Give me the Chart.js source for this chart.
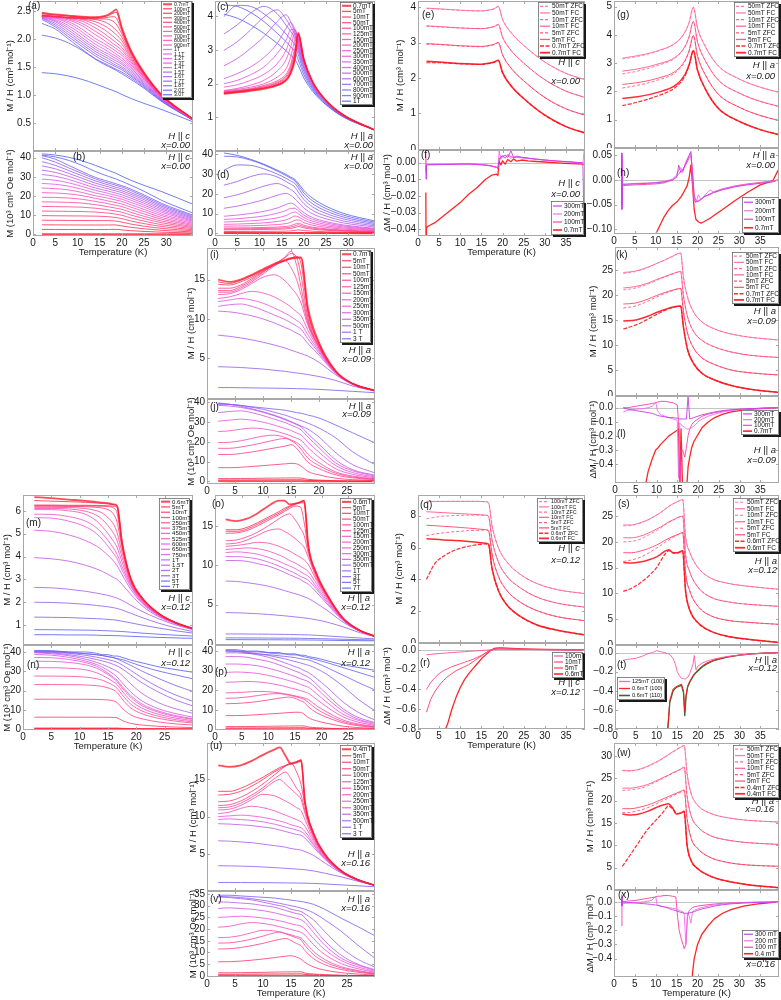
<!DOCTYPE html>
<html>
<head>
<meta charset="utf-8">
<script src="https://cdn.jsdelivr.net/npm/chart.js@4.4.0/dist/chart.umd.min.js"></script>
<style>
  body { margin: 0; background: #fff; width: 781px; height: 1000px; position: relative; overflow: hidden; }
  .panel { position: absolute; }
</style>
</head>
<body>
<script>
// ---------------- x = 0.00, H || c (a, b) ----------------
const tempA = [2, 5, 8, 11, 14, 16, 17, 18, 18.7, 20, 22, 25, 29, 36];
const fieldA = [0.7, 100, 200, 300, 400, 500, 600, 700, 800, 900, 1000, 1100, 1200, 1300, 1400, 1500, 1600, 1700, 1800, 2000, 3000];
const labelA = ['0.7mT', '100mT', '200mT', '300mT', '400mT', '500mT', '600mT', '700mT', '800mT', '900mT', '1T', '1.1T', '1.2T', '1.3T', '1.4T', '1.5T', '1.6T', '1.7T', '1.8T', '2.0T', '3.0T'];
const chiA = [
  [2.47, 2.44, 2.42, 2.40, 2.39, 2.41, 2.44, 2.49, 2.53, 2.2, 1.8, 1.4, 1.0, 0.57],
  [2.45, 2.43, 2.41, 2.39, 2.38, 2.40, 2.42, 2.46, 2.48, 2.18, 1.79, 1.39, 1.0, 0.57],
  [2.43, 2.41, 2.39, 2.38, 2.37, 2.38, 2.39, 2.40, 2.38, 2.14, 1.77, 1.39, 0.99, 0.57],
  [2.42, 2.40, 2.38, 2.37, 2.36, 2.36, 2.35, 2.32, 2.27, 2.09, 1.75, 1.38, 0.99, 0.57],
  [2.42, 2.40, 2.38, 2.37, 2.35, 2.31, 2.27, 2.21, 2.16, 2.03, 1.72, 1.37, 0.99, 0.57],
  [2.41, 2.40, 2.38, 2.36, 2.31, 2.24, 2.19, 2.13, 2.08, 1.97, 1.69, 1.36, 0.98, 0.57],
  [2.41, 2.40, 2.38, 2.35, 2.26, 2.17, 2.11, 2.05, 2.0, 1.91, 1.66, 1.35, 0.98, 0.57],
  [2.41, 2.40, 2.37, 2.32, 2.2, 2.1, 2.04, 1.98, 1.94, 1.85, 1.63, 1.33, 0.97, 0.56],
  [2.41, 2.40, 2.36, 2.28, 2.14, 2.04, 1.98, 1.92, 1.88, 1.8, 1.6, 1.32, 0.97, 0.56],
  [2.41, 2.39, 2.34, 2.24, 2.08, 1.98, 1.92, 1.87, 1.83, 1.75, 1.57, 1.31, 0.96, 0.56],
  [2.41, 2.38, 2.31, 2.18, 2.01, 1.92, 1.87, 1.82, 1.78, 1.71, 1.54, 1.29, 0.96, 0.56],
  [2.41, 2.37, 2.28, 2.13, 1.96, 1.87, 1.82, 1.77, 1.73, 1.66, 1.51, 1.28, 0.95, 0.56],
  [2.40, 2.35, 2.24, 2.08, 1.91, 1.82, 1.77, 1.72, 1.69, 1.62, 1.48, 1.26, 0.95, 0.56],
  [2.40, 2.33, 2.2, 2.03, 1.86, 1.77, 1.73, 1.68, 1.65, 1.58, 1.45, 1.24, 0.94, 0.55],
  [2.39, 2.31, 2.16, 1.99, 1.82, 1.73, 1.69, 1.64, 1.61, 1.55, 1.42, 1.22, 0.93, 0.55],
  [2.38, 2.28, 2.12, 1.95, 1.78, 1.69, 1.65, 1.6, 1.57, 1.51, 1.39, 1.2, 0.92, 0.55],
  [2.37, 2.25, 2.08, 1.91, 1.74, 1.65, 1.61, 1.56, 1.53, 1.48, 1.36, 1.18, 0.91, 0.55],
  [2.35, 2.22, 2.04, 1.87, 1.7, 1.61, 1.57, 1.53, 1.5, 1.45, 1.34, 1.16, 0.9, 0.55],
  [2.28, 2.18, 2.0, 1.82, 1.65, 1.57, 1.53, 1.49, 1.46, 1.41, 1.31, 1.14, 0.89, 0.55],
  [2.07, 2.02, 1.93, 1.8, 1.64, 1.55, 1.51, 1.47, 1.44, 1.38, 1.28, 1.12, 0.88, 0.55],
  [1.40, 1.38, 1.34, 1.28, 1.2, 1.14, 1.11, 1.08, 1.06, 1.01, 0.94, 0.85, 0.74, 0.52]
];

// ---------------- x = 0.00, H || a (c, d) ----------------
const tempC = [2, 5, 8, 11, 14, 16, 17, 18, 18.7, 20, 22, 25, 29, 36];
const fieldC = [0.7, 5, 10, 50, 100, 125, 150, 200, 250, 300, 350, 400, 500, 600, 700, 800, 900, 1000];
const labelC = ['0.7mT', '5mT', '10mT', '50mT', '100mT', '125mT', '150mT', '200mT', '250mT', '300mT', '350mT', '400mT', '500mT', '600mT', '700mT', '800mT', '900mT', '1T'];
const chiC = [
  [1.70, 1.74, 1.79, 1.85, 1.95, 2.1, 2.3, 2.75, 3.52, 2.72, 2.05, 1.5, 1.06, 0.62],
  [1.71, 1.75, 1.80, 1.86, 1.96, 2.11, 2.31, 2.77, 3.5, 2.72, 2.05, 1.5, 1.06, 0.62],
  [1.72, 1.76, 1.81, 1.87, 1.97, 2.12, 2.33, 2.79, 3.48, 2.72, 2.05, 1.5, 1.06, 0.62],
  [1.73, 1.77, 1.82, 1.88, 1.99, 2.15, 2.36, 2.83, 3.45, 2.71, 2.05, 1.5, 1.06, 0.62],
  [1.74, 1.78, 1.83, 1.9, 2.02, 2.19, 2.42, 2.9, 3.43, 2.71, 2.04, 1.5, 1.06, 0.62],
  [1.75, 1.79, 1.84, 1.92, 2.05, 2.23, 2.48, 2.98, 3.42, 2.7, 2.04, 1.5, 1.06, 0.62],
  [1.76, 1.8, 1.86, 1.95, 2.09, 2.29, 2.56, 3.08, 3.4, 2.7, 2.04, 1.5, 1.06, 0.62],
  [1.78, 1.83, 1.9, 2.0, 2.2, 2.45, 2.78, 3.3, 3.38, 2.69, 2.03, 1.49, 1.05, 0.62],
  [1.8, 1.86, 1.96, 2.1, 2.38, 2.72, 3.08, 3.5, 3.35, 2.67, 2.02, 1.49, 1.05, 0.62],
  [1.9, 1.97, 2.1, 2.28, 2.6, 3.0, 3.35, 3.6, 3.3, 2.65, 2.01, 1.48, 1.05, 0.62],
  [2.0, 2.1, 2.27, 2.5, 2.9, 3.3, 3.6, 3.62, 3.27, 2.62, 2.0, 1.48, 1.05, 0.62],
  [2.15, 2.3, 2.5, 2.78, 3.2, 3.65, 3.82, 3.6, 3.22, 2.6, 1.98, 1.47, 1.04, 0.62],
  [2.53, 2.75, 3.05, 3.4, 3.85, 4.05, 3.85, 3.5, 3.15, 2.56, 1.96, 1.46, 1.04, 0.62],
  [2.99, 3.25, 3.6, 3.98, 4.2, 3.92, 3.7, 3.42, 3.08, 2.5, 1.93, 1.45, 1.03, 0.62],
  [3.48, 3.75, 4.1, 4.3, 4.08, 3.74, 3.56, 3.33, 3.0, 2.44, 1.9, 1.43, 1.03, 0.62],
  [4.0, 4.33, 4.3, 4.08, 3.75, 3.48, 3.32, 3.15, 2.88, 2.36, 1.86, 1.41, 1.02, 0.62],
  [4.34, 4.3, 4.12, 3.85, 3.5, 3.25, 3.1, 2.95, 2.72, 2.27, 1.82, 1.39, 1.01, 0.62],
  [4.07, 3.95, 3.75, 3.5, 3.2, 2.98, 2.85, 2.72, 2.55, 2.17, 1.77, 1.37, 1.0, 0.62]
];

// ---------------- ZFC / FC panels (e, g, k, q, s, w) ----------------
const tempE = [2, 5, 10, 15, 17, 18, 19, 20, 22, 25, 30, 35, 39.5];
const pairLabelE = ['50mT', '10mT', '5mT', '0.7mT'];
const zfcE = [
  [3.96, 3.94, 3.91, 3.89, 3.92, 3.95, 4.01, 3.65, 3.28, 2.92, 2.45, 2.13, 1.95],
  [3.46, 3.44, 3.41, 3.39, 3.42, 3.45, 3.5, 3.15, 2.78, 2.42, 1.95, 1.63, 1.45],
  [2.95, 2.94, 2.9, 2.88, 2.91, 2.94, 2.99, 2.65, 2.28, 1.92, 1.45, 1.13, 0.95],
  [2.43, 2.43, 2.4, 2.38, 2.41, 2.44, 2.49, 2.15, 1.78, 1.42, 0.95, 0.63, 0.45]
];
const fcE = [
  [3.97, 3.95, 3.91, 3.89, 3.92, 3.95, 4.02, 3.65, 3.28, 2.92, 2.45, 2.13, 1.95],
  [3.47, 3.45, 3.41, 3.39, 3.42, 3.45, 3.51, 3.15, 2.78, 2.42, 1.95, 1.63, 1.45],
  [2.97, 2.95, 2.91, 2.89, 2.92, 2.95, 3.0, 2.65, 2.28, 1.92, 1.45, 1.13, 0.95],
  [2.47, 2.45, 2.41, 2.39, 2.42, 2.45, 2.5, 2.15, 1.78, 1.42, 0.95, 0.63, 0.45]
];

const tempG = [2, 5, 10, 15, 17, 18, 19, 20, 22, 25, 30, 35, 39.5];
const pairLabelG = ['50mT', '10mT', '5mT', '0.7mT'];
const zfcG = [
  [3.15, 3.22, 3.4, 3.74, 4.1, 4.45, 4.98, 4.25, 3.55, 2.9, 2.44, 2.15, 1.97],
  [2.62, 2.7, 2.9, 3.22, 3.58, 3.94, 4.48, 3.75, 3.05, 2.4, 1.94, 1.65, 1.47],
  [2.12, 2.2, 2.38, 2.7, 3.07, 3.43, 3.98, 3.25, 2.55, 1.9, 1.44, 1.15, 0.97],
  [1.5, 1.6, 1.82, 2.18, 2.55, 2.93, 3.45, 2.75, 2.05, 1.4, 0.94, 0.65, 0.47]
];
const fcG = [
  [3.18, 3.25, 3.42, 3.75, 4.1, 4.45, 4.98, 4.25, 3.55, 2.9, 2.44, 2.15, 1.97],
  [2.72, 2.78, 2.95, 3.25, 3.6, 3.95, 4.48, 3.75, 3.05, 2.4, 1.94, 1.65, 1.47],
  [2.25, 2.3, 2.45, 2.75, 3.1, 3.45, 3.98, 3.25, 2.55, 1.9, 1.44, 1.15, 0.97],
  [1.75, 1.8, 1.95, 2.25, 2.6, 2.95, 3.45, 2.75, 2.05, 1.4, 0.94, 0.65, 0.47]
];

const tempK = [2, 5, 8, 10, 12, 14, 15.8, 16.5, 17.5, 19, 21, 24, 28, 33, 39.5];
const pairLabelK = ['50mT', '10mT', '5mT', '0.7mT'];
const zfcK = [
  [24.3, 24.7, 25.5, 26.3, 27.0, 27.8, 28.4, 23.5, 19.5, 16.5, 14.6, 13.2, 12.2, 11.5, 11.0],
  [21.0, 21.4, 22.2, 22.9, 23.6, 24.2, 24.7, 19.8, 15.6, 12.6, 10.9, 9.6, 8.6, 7.9, 7.5],
  [17.4, 17.8, 18.8, 19.6, 20.3, 20.9, 21.3, 16.6, 12.3, 9.3, 7.4, 6.1, 5.0, 4.4, 4.0],
  [13.2, 14.0, 15.2, 16.1, 16.9, 17.5, 17.8, 13.5, 9.0, 6.2, 4.3, 3.0, 1.9, 1.1, 0.5]
];
const fcK = [
  [24.5, 24.8, 25.6, 26.3, 27.0, 27.8, 28.4, 23.5, 19.5, 16.5, 14.6, 13.2, 12.2, 11.5, 11.0],
  [21.4, 21.7, 22.4, 23.1, 23.7, 24.3, 24.7, 19.8, 15.6, 12.6, 10.9, 9.6, 8.6, 7.9, 7.5],
  [18.2, 18.4, 19.2, 19.9, 20.5, 21.0, 21.3, 16.6, 12.3, 9.3, 7.4, 6.1, 5.0, 4.4, 4.0],
  [14.8, 15.0, 15.8, 16.5, 17.1, 17.6, 17.8, 13.5, 9.0, 6.2, 4.3, 3.0, 1.9, 1.1, 0.5]
];

const tempQ = [2, 4, 6, 8, 10, 12, 14, 16, 16.7, 17.5, 19, 21, 24, 28, 33, 39.5];
const pairLabelQ = ['100mT', '10mT', '5mT', '0.6mT'];
const zfcQ = [
  [8.88, 8.89, 8.89, 8.9, 8.9, 8.9, 8.9, 8.88, 8.8, 7.4, 6.0, 5.1, 4.35, 3.75, 3.35, 3.1],
  [7.8, 7.9, 7.97, 8.0, 8.02, 8.03, 8.04, 8.03, 7.93, 6.5, 5.1, 4.2, 3.5, 2.9, 2.5, 2.25],
  [6.75, 6.85, 6.92, 6.98, 7.02, 7.06, 7.08, 7.1, 7.03, 5.6, 4.2, 3.3, 2.6, 2.05, 1.65, 1.4],
  [4.0, 5.0, 5.45, 5.75, 5.95, 6.08, 6.17, 6.22, 6.18, 4.7, 3.3, 2.4, 1.7, 1.15, 0.8, 0.5]
];
const fcQ = [
  [8.9, 8.9, 8.9, 8.9, 8.9, 8.9, 8.9, 8.88, 8.8, 7.4, 6.0, 5.1, 4.35, 3.75, 3.35, 3.1],
  [8.25, 8.22, 8.19, 8.16, 8.13, 8.1, 8.07, 8.03, 7.95, 6.5, 5.1, 4.2, 3.5, 2.9, 2.5, 2.25],
  [7.4, 7.37, 7.33, 7.3, 7.26, 7.22, 7.17, 7.12, 7.05, 5.6, 4.2, 3.3, 2.6, 2.05, 1.65, 1.4],
  [6.55, 6.52, 6.48, 6.45, 6.42, 6.38, 6.33, 6.27, 6.2, 4.7, 3.3, 2.4, 1.7, 1.15, 0.8, 0.5]
];

const tempS = [2, 4, 6, 8, 10, 11, 12, 13, 14, 15, 16.3, 17, 18, 20, 23, 27, 32, 39.5];
const pairLabelS = ['50mT', '10mT', '5mT', '0.6mT'];
const zfcS = [
  [23.1, 23.2, 23.6, 24.3, 25.2, 25.7, 26.3, 26.9, 27.4, 27.8, 28.2, 21.0, 18.0, 15.0, 13.0, 12.0, 11.4, 10.8],
  [20.0, 20.1, 20.5, 21.3, 22.2, 22.7, 23.3, 23.8, 24.2, 24.6, 25.0, 17.5, 14.2, 11.2, 9.3, 8.4, 7.9, 7.5],
  [16.2, 16.5, 17.0, 17.8, 18.8, 19.3, 19.9, 20.4, 20.9, 21.3, 21.8, 14.0, 10.5, 7.5, 5.7, 4.8, 4.4, 4.0],
  [10.4, 11.0, 12.0, 13.3, 15.0, 16.3, 17.6, 18.3, 17.8, 17.8, 18.2, 10.5, 6.8, 4.3, 2.7, 1.7, 1.1, 0.5]
];
const fcS = [
  [23.3, 23.3, 23.7, 24.3, 25.2, 25.7, 26.3, 26.9, 27.4, 27.8, 28.2, 21.0, 18.0, 15.0, 13.0, 12.0, 11.4, 10.8],
  [20.8, 20.8, 21.1, 21.7, 22.5, 22.9, 23.4, 23.9, 24.3, 24.7, 25.0, 17.5, 14.2, 11.2, 9.3, 8.4, 7.9, 7.5],
  [17.9, 17.9, 18.2, 18.7, 19.4, 19.8, 20.3, 20.7, 21.1, 21.4, 21.8, 14.0, 10.5, 7.5, 5.7, 4.8, 4.4, 4.0],
  [16.0, 15.9, 16.1, 16.5, 17.1, 17.6, 18.2, 18.5, 17.9, 17.9, 18.3, 10.5, 6.8, 4.3, 2.7, 1.7, 1.1, 0.5]
];

const tempW = [2, 4, 6, 8, 10, 11, 12, 13, 14, 15, 16, 16.8, 17.5, 18.5, 20, 23, 27, 32, 39.5];
const pairLabelW = ['50mT', '10mT', '5mT', '0.4mT'];
const zfcW = [
  [26.7, 26.6, 27.0, 27.6, 28.5, 29.0, 29.6, 30.2, 30.8, 31.4, 31.9, 32.3, 26.0, 21.5, 19.0, 17.2, 16.2, 15.6, 15.2],
  [22.3, 22.4, 22.7, 23.3, 24.2, 24.6, 25.1, 25.6, 26.1, 26.5, 27.0, 27.4, 21.0, 16.5, 14.2, 12.2, 11.2, 10.6, 10.2],
  [17.3, 17.4, 17.8, 18.4, 19.2, 19.7, 20.1, 20.6, 21.0, 21.5, 21.9, 22.2, 16.0, 11.5, 9.3, 7.3, 6.2, 5.6, 5.3],
  [5.3, 8.0, 10.8, 13.5, 15.6, 16.6, 17.7, 18.8, 18.2, 17.1, 17.3, 17.6, 10.0, 6.5, 4.8, 3.1, 2.0, 1.2, 0.5]
];
const fcW = [
  [26.8, 26.7, 27.0, 27.7, 28.6, 29.1, 29.7, 30.3, 30.9, 31.5, 32.0, 32.4, 26.0, 21.5, 19.0, 17.2, 16.2, 15.6, 15.2],
  [22.8, 22.8, 23.1, 23.6, 24.4, 24.8, 25.3, 25.7, 26.2, 26.6, 27.1, 27.5, 21.0, 16.5, 14.2, 12.2, 11.2, 10.6, 10.2],
  [18.2, 18.2, 18.5, 19.0, 19.7, 20.1, 20.5, 20.9, 21.3, 21.7, 22.1, 22.4, 16.0, 11.5, 9.3, 7.3, 6.2, 5.6, 5.3],
  [17.0, 16.8, 17.0, 17.6, 18.4, 18.8, 19.1, 19.3, 18.4, 17.0, 17.2, 17.6, 10.0, 6.5, 4.8, 3.1, 2.0, 1.2, 0.5]
];

// ---------------- Delta M / H panels (f, h, l, r, t, x) ----------------
const tempF = [1.85, 1.9, 2, 2.5, 4, 6, 8, 10, 12, 14, 16, 17.5, 18.6, 18.9, 19.2, 19.6, 20, 20.6, 21.2, 22, 22.6, 23.3, 24.5, 26, 28, 30, 33, 36, 39, 39.3];
const diffLabelF = ['300mT', '200mT', '100mT', '0.7mT'];
const diffF = [
  [-0.002, -0.01, -0.0014, -0.0014, -0.0013, -0.0012, -0.0011, -0.001, -0.0009, -0.0011, -0.0015, -0.0021, -0.0029, -0.0034, 0.002, 0.0035, 0.0035, 0.0045, 0.003, 0.007, 0.003, 0.0035, 0.0032, 0.0026, 0.002, 0.0015, 0.0009, 0.0004, -0.0002, -0.044],
  [0.007, -0.004, -0.001, -0.0011, -0.001, -0.001, -0.0009, -0.0008, -0.0008, -0.001, -0.0014, -0.002, -0.0028, -0.0032, 0.007, 0.002, 0.0035, 0.003, 0.004, 0.0025, 0.0035, 0.003, 0.0028, 0.0025, 0.002, 0.0014, 0.0008, 0.0003, -0.0002, 0.007],
  [0.003, -0.006, -0.0012, -0.0013, -0.0012, -0.0011, -0.0011, -0.0009, -0.0009, -0.0012, -0.0016, -0.0022, -0.003, -0.0036, 0.0012, 0.0028, 0.0042, 0.0025, 0.0048, 0.0035, 0.003, 0.0038, 0.003, 0.0026, 0.002, 0.0015, 0.0008, 0.0003, -0.0003, -0.0004],
  [-0.018, -0.044, -0.039, -0.038, -0.036, -0.032, -0.028, -0.024, -0.019, -0.015, -0.01, -0.0075, -0.007, -0.0078, 0.0008, -0.0015, 0.001, -0.001, 0.0018, 0.0005, 0.0022, 0.0008, 0.0015, 0.001, 0.0006, 0.0003, -0.0002, -0.0007, -0.001, -0.001]
];

const tempH = [1.85, 1.9, 2, 3, 5, 8, 10, 12, 13, 14, 15, 15.5, 16, 16.5, 17, 17.5, 18, 18.4, 18.8, 19.2, 19.6, 20.2, 20.8, 21.5, 23, 24, 26, 29, 32, 35, 38, 39.3];
const diffLabelH = ['300mT', '200mT', '100mT', '0.7mT'];
const diffH = [
  [0.055, -0.06, -0.01, -0.009, -0.008, -0.007, -0.006, -0.004, -0.002, 0.0, 0.005, 0.03, 0.015, 0.02, 0.03, 0.04, 0.05, 0.058, 0.01, -0.04, -0.045, -0.042, -0.04, -0.035, -0.028, -0.025, -0.02, -0.014, -0.01, -0.007, -0.004, 0.0],
  [0.05, -0.05, -0.008, -0.008, -0.007, -0.006, -0.005, -0.003, -0.001, 0.002, 0.01, 0.02, 0.025, 0.015, 0.032, 0.042, 0.05, 0.055, 0.0, -0.043, -0.046, -0.03, -0.04, -0.033, -0.02, -0.026, -0.019, -0.013, -0.009, -0.006, -0.003, 0.0],
  [0.04, -0.04, -0.012, -0.011, -0.01, -0.009, -0.008, -0.006, -0.003, 0.0, 0.008, 0.012, 0.018, 0.022, 0.028, 0.036, 0.045, 0.05, 0.02, -0.03, -0.042, -0.044, -0.04, -0.034, -0.03, -0.024, -0.018, -0.012, -0.008, -0.005, -0.002, 0.0],
  [-0.2, -0.2, -0.2, -0.2, -0.2, -0.16, -0.11, -0.075, -0.062, -0.052, -0.045, -0.04, -0.035, -0.028, -0.02, -0.012, 0.005, 0.03, -0.01, -0.06, -0.08, -0.085, -0.088, -0.085, -0.078, -0.072, -0.06, -0.042, -0.025, -0.01, -0.002, 0.02]
];

const tempL = [2, 3, 5, 7, 8, 9, 9.8, 10.2, 11, 12, 13, 14, 15, 15.3, 15.6, 15.9, 16.3, 16.8, 17.2, 17.6, 18, 18.5, 19, 20, 21, 22.5, 24, 26, 28, 30, 33, 36, 39.3];
const diffLabelL = ['300mT', '200mT', '100mT', '0.7mT'];
const diffL = [
  [0.0, -0.01, -0.02, -0.03, -0.035, -0.04, -0.05, -0.055, -0.06, -0.065, -0.07, -0.07, -0.075, -0.075, -0.08, -0.08, -0.08, -0.08, -0.08, 0.08, -0.08, -0.075, -0.07, -0.06, -0.05, -0.04, -0.03, -0.02, -0.015, -0.01, -0.006, -0.003, 0.0],
  [-0.03, -0.02, -0.01, -0.005, 0.0, 0.01, 0.04, -0.02, -0.05, -0.06, -0.07, -0.08, -0.09, -0.5, -0.11, -0.12, -0.13, -0.14, -0.15, -0.15, -0.15, -0.14, -0.13, -0.1, -0.08, -0.06, -0.045, -0.03, -0.02, -0.013, -0.007, -0.003, 0.0],
  [0.0, 0.0, 0.01, 0.02, 0.025, 0.03, 0.035, 0.04, 0.045, 0.045, 0.04, 0.035, 0.02, -0.1, -0.6, -0.3, -0.3, -0.35, -0.28, -0.2, -0.15, -0.12, -0.1, -0.08, -0.06, -0.045, -0.035, -0.025, -0.017, -0.012, -0.007, -0.003, 0.0],
  [-1, -1, -1, -0.6, -0.45, -0.36, -0.3, -0.29, -0.26, -0.23, -0.2, -0.18, -0.16, -0.15, -0.6, -0.15, -0.6, -0.6, -0.6, -0.42, -0.35, -0.28, -0.24, -0.19, -0.14, -0.1, -0.07, -0.045, -0.03, -0.02, -0.01, -0.005, 0.0]
];

const tempR = [2, 3, 4, 5, 6, 7, 8, 9, 10, 11, 12, 13, 14, 15, 16, 17, 18, 19, 20, 22, 25, 30, 35, 39.5];
const diffLabelR = ['100mT', '10mT', '5mT', '0.6mT'];
const diffR = [
  [-0.05, -0.045, -0.04, -0.037, -0.034, -0.03, -0.027, -0.024, -0.021, -0.018, -0.015, -0.012, -0.009, -0.006, -0.003, 0.0, 0.005, 0.01, 0.01, 0.008, 0.005, 0.003, 0.001, 0.0],
  [-0.4, -0.33, -0.28, -0.24, -0.21, -0.19, -0.17, -0.155, -0.14, -0.125, -0.11, -0.095, -0.075, -0.055, -0.03, -0.01, 0.005, 0.01, 0.01, 0.008, 0.005, 0.003, 0.001, 0.0],
  [-0.63, -0.5, -0.42, -0.36, -0.31, -0.27, -0.24, -0.21, -0.19, -0.17, -0.15, -0.12, -0.09, -0.06, -0.03, -0.005, 0.01, 0.01, 0.01, 0.008, 0.005, 0.003, 0.001, 0.0],
  [-1.2, -1.1, -1.0, -0.95, -0.85, -0.75, -0.6, -0.48, -0.38, -0.3, -0.24, -0.19, -0.14, -0.09, -0.05, -0.01, 0.015, 0.02, 0.02, 0.015, 0.01, 0.005, 0.002, 0.0]
];

const tempT = [2, 3, 5, 7, 8, 9, 10, 11, 12, 12.7, 13.2, 14, 14.6, 15, 15.5, 16, 16.5, 16.8, 17.1, 17.5, 18, 18.8, 19.1, 19.5, 20, 21, 22, 24, 27, 30, 33, 36, 39.5];
const diffLabelT = ['125mT (100)', '0.6mT (100)', '0.6mT (110)'];
const diffT = [
  [-0.08, -0.07, -0.06, -0.03, -0.01, 0.0, 0.02, 0.01, 0.0, -0.01, -0.02, -0.06, -0.13, -0.2, -0.24, -0.27, -0.27, -0.28, -0.27, -0.26, -0.22, -0.12, -0.03, -0.18, -0.14, -0.11, -0.09, -0.065, -0.04, -0.025, -0.012, -0.005, 0.0],
  [-2, -2, -2, -2, -2, -2, -2, -2, -1.2, -0.8, -0.5, -0.38, -0.36, -0.35, -0.34, -0.33, -0.4, -0.62, -0.45, -0.35, -0.3, -0.24, -0.22, -0.2, -0.18, -0.14, -0.11, -0.075, -0.045, -0.025, -0.012, -0.005, 0.0],
  [-2, -2, -2, -2, -2, -2, -2, -2, -1.2, -0.82, -0.52, -0.4, -0.37, -0.36, -0.35, -0.34, -0.42, -0.66, -0.47, -0.36, -0.31, -0.25, -0.23, -0.21, -0.19, -0.15, -0.12, -0.08, -0.048, -0.027, -0.013, -0.006, 0.0]
];

const tempXd = [1.85, 1.9, 2, 3, 5, 7, 9, 10, 10.3, 11, 12, 13, 14, 14.8, 15.2, 15.6, 16, 16.5, 16.8, 17.2, 17.6, 18, 18.4, 18.8, 19.2, 20, 21, 22.5, 24, 26, 28, 31, 34, 37, 39.3];
const diffLabelX = ['300 mT', '200 mT', '100 mT', '0.4 mT'];
const diffX = [
  [0.03, -0.03, 0.0, -0.003, -0.008, -0.012, -0.018, -0.022, -0.024, -0.028, -0.035, -0.045, -0.055, -0.062, -0.066, -0.07, -0.074, -0.077, -0.08, -0.08, -0.08, -0.078, -0.075, -0.072, -0.068, -0.06, -0.05, -0.04, -0.03, -0.02, -0.014, -0.008, -0.004, -0.002, 0.0],
  [0.05, -0.02, -0.01, -0.01, -0.005, 0.0, 0.01, 0.04, -0.02, -0.03, -0.035, -0.04, -0.045, -0.05, -0.055, -0.06, -0.065, -0.07, -0.08, -0.3, -0.08, -0.1, -0.15, -0.07, -0.06, -0.05, -0.04, -0.03, -0.022, -0.015, -0.01, -0.006, -0.003, -0.001, 0.0],
  [-0.17, 0.03, 0.0, 0.005, 0.01, 0.02, 0.03, 0.035, 0.04, 0.04, 0.045, 0.045, 0.04, 0.035, -0.1, -0.2, -0.25, -0.3, -0.33, -0.3, -0.1, -0.06, -0.05, -0.04, -0.035, -0.03, -0.025, -0.02, -0.015, -0.01, -0.007, -0.004, -0.002, -0.001, 0.0],
  [-1, -1, -1, -1, -1, -1, -1, -1, -1, -1, -1, -1, -1, -1, -1, -1, -1, -1, -1, -1, -1, -1, -0.8, -0.5, -0.4, -0.3, -0.23, -0.17, -0.12, -0.08, -0.055, -0.03, -0.015, -0.006, 0.0]
];

// ---------------- x = 0.09, H || a (i, j) ----------------
const tempI = [2, 4, 6, 8, 10, 12, 14, 15, 16, 16.8, 18, 20, 23, 26, 30];
const fieldI = [0.7, 5, 10, 50, 100, 125, 150, 200, 250, 300, 350, 500, 1000, 3000];
const labelI = ['0.7mT', '5mT', '10mT', '50mT', '100mT', '125mT', '150mT', '200mT', '250mT', '300mT', '350mT', '500mT', '1 T', '3 T'];
const chiI = [
  [15.0, 14.7, 15.0, 15.6, 16.3, 17.0, 17.5, 17.7, 17.8, 17.8, 11.5, 7.0, 3.4, 1.8, 0.9],
  [14.7, 14.5, 14.9, 15.5, 16.2, 16.9, 17.4, 17.6, 17.7, 17.7, 11.2, 6.9, 3.4, 1.8, 0.9],
  [14.4, 14.3, 14.7, 15.3, 16.1, 16.8, 17.4, 17.7, 17.9, 17.0, 10.8, 6.8, 3.3, 1.8, 0.9],
  [13.9, 13.9, 14.3, 15.1, 16.0, 16.9, 17.8, 18.3, 17.8, 15.5, 10.2, 6.6, 3.3, 1.8, 0.9],
  [13.6, 13.6, 14.1, 14.9, 15.9, 16.9, 17.9, 18.6, 16.8, 14.0, 9.8, 6.5, 3.3, 1.8, 0.9],
  [13.4, 13.4, 13.9, 14.7, 15.7, 16.7, 17.4, 16.5, 15.0, 13.0, 9.5, 6.4, 3.3, 1.8, 0.9],
  [13.1, 13.2, 13.7, 14.5, 15.3, 15.6, 14.8, 14.0, 13.1, 12.0, 9.2, 6.3, 3.2, 1.8, 0.9],
  [12.6, 12.8, 13.2, 13.5, 13.3, 12.8, 12.0, 11.5, 10.9, 10.4, 8.6, 6.1, 3.2, 1.8, 0.9],
  [12.2, 12.4, 12.6, 12.4, 12.0, 11.4, 10.7, 10.3, 9.8, 9.4, 8.0, 5.9, 3.2, 1.8, 0.9],
  [11.6, 11.8, 11.9, 11.6, 11.1, 10.5, 9.9, 9.5, 9.1, 8.7, 7.5, 5.7, 3.1, 1.8, 0.9],
  [11.0, 10.9, 10.7, 10.4, 10.0, 9.5, 8.9, 8.6, 8.2, 7.9, 6.9, 5.4, 3.1, 1.7, 0.9],
  [7.95, 7.8, 7.6, 7.35, 7.05, 6.7, 6.3, 6.05, 5.8, 5.6, 5.3, 4.5, 2.9, 1.7, 0.86],
  [3.95, 3.9, 3.85, 3.75, 3.65, 3.5, 3.35, 3.25, 3.15, 3.08, 2.95, 2.7, 2.2, 1.5, 0.85],
  [1.3, 1.3, 1.28, 1.26, 1.24, 1.22, 1.2, 1.18, 1.16, 1.15, 1.12, 1.07, 0.95, 0.82, 0.65]
];

// ---------------- x = 0.12, H || c (m, n) ----------------
const tempM = [2, 5, 8, 11, 13, 14, 15, 16, 16.6, 17.5, 19, 21, 24, 27, 30];
const fieldM = [0.6, 5, 10, 100, 250, 375, 450, 525, 600, 650, 750, 1000, 1500, 2000, 3000, 5000, 7000];
const labelM = ['0.6mT', '5mT', '10mT', '100mT', '250mT', '375mT', '450mT', '525mT', '600mT', '650mT', '750mT', '1T', '1.5T', '2T', '3T', '5T', '7T'];
const chiM = [
  [6.6, 6.55, 6.49, 6.43, 6.38, 6.36, 6.33, 6.28, 6.22, 4.6, 3.05, 2.2, 1.5, 1.1, 0.85],
  [6.45, 6.42, 6.4, 6.37, 6.34, 6.32, 6.3, 6.26, 6.2, 4.6, 3.05, 2.2, 1.5, 1.1, 0.85],
  [6.25, 6.25, 6.24, 6.24, 6.23, 6.23, 6.22, 6.2, 6.15, 4.55, 3.03, 2.2, 1.5, 1.1, 0.85],
  [6.22, 6.22, 6.21, 6.21, 6.2, 6.2, 6.18, 6.12, 5.9, 4.5, 3.0, 2.18, 1.5, 1.1, 0.85],
  [6.2, 6.2, 6.19, 6.18, 6.15, 6.12, 6.05, 5.85, 5.5, 4.35, 2.97, 2.15, 1.49, 1.1, 0.85],
  [6.15, 6.15, 6.14, 6.1, 6.0, 5.9, 5.7, 5.4, 5.05, 4.15, 2.93, 2.13, 1.48, 1.1, 0.85],
  [6.1, 6.1, 6.08, 5.98, 5.8, 5.62, 5.35, 5.0, 4.7, 3.95, 2.88, 2.1, 1.47, 1.09, 0.84],
  [6.05, 6.05, 6.0, 5.85, 5.55, 5.3, 5.0, 4.65, 4.4, 3.75, 2.82, 2.07, 1.46, 1.09, 0.84],
  [5.85, 5.84, 5.75, 5.55, 5.25, 5.0, 4.7, 4.35, 4.1, 3.55, 2.75, 2.03, 1.45, 1.08, 0.84],
  [5.7, 5.68, 5.55, 5.3, 5.0, 4.75, 4.45, 4.12, 3.9, 3.4, 2.68, 2.0, 1.43, 1.08, 0.83],
  [5.15, 5.1, 4.95, 4.7, 4.45, 4.27, 4.05, 3.8, 3.6, 3.2, 2.57, 1.95, 1.4, 1.07, 0.83],
  [3.95, 3.9, 3.8, 3.62, 3.45, 3.35, 3.22, 3.08, 3.0, 2.78, 2.35, 1.85, 1.36, 1.05, 0.82],
  [2.65, 2.63, 2.57, 2.48, 2.4, 2.35, 2.3, 2.23, 2.18, 2.08, 1.87, 1.6, 1.27, 1.0, 0.8],
  [2.0, 1.99, 1.96, 1.91, 1.86, 1.83, 1.8, 1.76, 1.73, 1.66, 1.52, 1.33, 1.08, 0.88, 0.72],
  [1.35, 1.34, 1.33, 1.3, 1.28, 1.27, 1.25, 1.23, 1.21, 1.17, 1.1, 1.0, 0.87, 0.75, 0.65],
  [0.8, 0.8, 0.79, 0.78, 0.77, 0.76, 0.75, 0.74, 0.73, 0.72, 0.69, 0.65, 0.6, 0.56, 0.52],
  [0.58, 0.58, 0.57, 0.57, 0.56, 0.55, 0.55, 0.54, 0.54, 0.53, 0.51, 0.49, 0.46, 0.44, 0.42]
];

// ---------------- x = 0.12, H || a (o, p) ----------------
const tempO = [2, 4, 6, 8, 10, 12, 13, 14, 15, 16, 16.7, 17.5, 19, 21, 24, 27, 30];
const fieldO = [0.6, 5, 10, 50, 100, 125, 150, 200, 250, 300, 350, 500, 1000, 3000, 5000, 7000];
const labelO = ['0.6mT', '5mT', '10mT', '50mT', '100mT', '125mT', '150mT', '200mT', '250mT', '300mT', '350mT', '500mT', '1T', '3T', '5T', '7T'];
const chiO = [
  [15.8, 15.6, 15.9, 16.6, 17.5, 18.2, 18.2, 17.7, 17.8, 18.0, 18.2, 12.5, 9.0, 6.3, 3.3, 1.8, 1.0],
  [14.5, 14.5, 14.8, 15.4, 16.1, 16.8, 17.2, 17.5, 17.8, 18.0, 18.2, 12.5, 9.0, 6.3, 3.3, 1.8, 1.0],
  [14.3, 14.3, 14.6, 15.2, 15.9, 16.6, 17.0, 17.4, 17.7, 17.9, 17.9, 12.4, 8.9, 6.2, 3.3, 1.8, 1.0],
  [14.05, 14.1, 14.4, 15.0, 15.7, 16.4, 16.8, 17.2, 17.5, 17.4, 15.5, 12.0, 8.8, 6.2, 3.3, 1.8, 1.0],
  [13.1, 13.2, 13.6, 14.2, 15.0, 15.9, 16.3, 16.5, 15.8, 14.7, 13.8, 11.5, 8.6, 6.1, 3.3, 1.8, 1.0],
  [12.7, 12.8, 13.2, 13.8, 14.4, 14.6, 14.3, 13.9, 13.4, 12.8, 12.3, 11.0, 8.4, 6.0, 3.2, 1.8, 1.0],
  [12.4, 12.5, 12.7, 12.9, 12.8, 12.4, 12.1, 11.8, 11.4, 11.0, 10.7, 10.1, 8.1, 5.9, 3.2, 1.8, 1.0],
  [12.0, 12.1, 12.2, 12.1, 11.8, 11.3, 11.0, 10.6, 10.3, 9.9, 9.6, 9.2, 7.7, 5.7, 3.2, 1.8, 1.0],
  [11.6, 11.7, 11.6, 11.4, 11.0, 10.5, 10.2, 9.9, 9.6, 9.2, 8.9, 8.6, 7.3, 5.5, 3.1, 1.8, 1.0],
  [11.1, 11.1, 11.0, 10.8, 10.4, 9.9, 9.6, 9.3, 9.0, 8.6, 8.4, 8.1, 7.0, 5.3, 3.1, 1.7, 1.0],
  [10.6, 10.6, 10.5, 10.2, 9.9, 9.4, 9.1, 8.8, 8.5, 8.2, 7.9, 7.6, 6.6, 5.1, 3.0, 1.7, 1.0],
  [8.0, 7.95, 7.8, 7.6, 7.35, 7.0, 6.8, 6.6, 6.4, 6.2, 6.0, 5.8, 5.2, 4.3, 2.8, 1.7, 0.95],
  [4.0, 3.98, 3.93, 3.86, 3.77, 3.66, 3.6, 3.53, 3.46, 3.39, 3.33, 3.27, 3.1, 2.8, 2.2, 1.5, 0.95],
  [1.3, 1.3, 1.29, 1.28, 1.27, 1.25, 1.24, 1.23, 1.22, 1.2, 1.19, 1.18, 1.13, 1.05, 0.92, 0.79, 0.67],
  [0.8, 0.8, 0.79, 0.79, 0.78, 0.77, 0.77, 0.76, 0.76, 0.75, 0.74, 0.73, 0.71, 0.68, 0.63, 0.58, 0.53],
  [0.58, 0.58, 0.57, 0.57, 0.56, 0.56, 0.55, 0.55, 0.55, 0.54, 0.54, 0.53, 0.52, 0.5, 0.47, 0.45, 0.43]
];

// ---------------- x = 0.16, H || a (u, v) ----------------
const tempU = [2, 4, 6, 8, 10, 12, 13, 14, 15, 16, 16.8, 17.5, 19, 21, 24, 27, 30];
const fieldU = [0.4, 5, 10, 50, 100, 125, 150, 200, 250, 300, 350, 500, 1000, 3000];
const labelU = ['0.4mT', '5mT', '10mT', '50mT', '100mT', '125mT', '150mT', '200mT', '250mT', '300mT', '350mT', '500mT', '1 T', '3 T'];
const chiU = [
  [16.9, 16.7, 16.9, 17.5, 18.3, 19.0, 19.3, 18.2, 17.1, 17.3, 17.6, 12.0, 7.8, 5.0, 2.7, 1.5, 0.75],
  [13.4, 13.4, 13.8, 14.5, 15.3, 16.2, 16.6, 16.9, 17.2, 17.4, 17.6, 12.0, 7.8, 5.0, 2.7, 1.5, 0.75],
  [12.9, 13.0, 13.4, 14.1, 15.0, 16.0, 16.4, 16.8, 17.1, 17.3, 17.4, 11.9, 7.8, 5.0, 2.7, 1.5, 0.75],
  [12.0, 12.1, 12.6, 13.4, 14.4, 15.6, 16.2, 16.8, 17.2, 16.0, 14.3, 11.5, 7.6, 4.9, 2.7, 1.5, 0.75],
  [11.5, 11.6, 12.1, 12.9, 13.9, 15.1, 15.6, 16.0, 15.1, 13.8, 12.9, 10.8, 7.4, 4.8, 2.7, 1.5, 0.75],
  [11.2, 11.3, 11.8, 12.6, 13.6, 14.7, 15.0, 14.4, 13.7, 13.0, 12.3, 10.4, 7.3, 4.8, 2.7, 1.5, 0.75],
  [10.9, 11.0, 11.5, 12.3, 13.0, 12.8, 12.5, 12.1, 11.7, 11.2, 10.8, 9.6, 7.0, 4.7, 2.6, 1.5, 0.75],
  [10.4, 10.6, 11.1, 11.4, 11.2, 10.8, 10.5, 10.2, 9.9, 9.6, 9.3, 8.7, 6.7, 4.6, 2.6, 1.5, 0.75],
  [10.0, 10.1, 10.2, 10.1, 9.9, 9.6, 9.4, 9.2, 8.9, 8.7, 8.5, 8.0, 6.4, 4.5, 2.6, 1.5, 0.75],
  [9.6, 9.7, 9.6, 9.5, 9.3, 9.0, 8.8, 8.6, 8.4, 8.2, 8.0, 7.6, 6.2, 4.4, 2.5, 1.5, 0.75],
  [9.05, 9.0, 8.9, 8.8, 8.6, 8.4, 8.2, 8.0, 7.8, 7.6, 7.5, 7.1, 5.9, 4.3, 2.5, 1.4, 0.75],
  [6.75, 6.7, 6.6, 6.5, 6.3, 6.1, 6.0, 5.9, 5.7, 5.6, 5.5, 5.3, 4.8, 3.8, 2.4, 1.4, 0.75],
  [3.4, 3.38, 3.35, 3.3, 3.23, 3.15, 3.1, 3.05, 3.0, 2.95, 2.9, 2.85, 2.7, 2.4, 1.9, 1.3, 0.75],
  [1.15, 1.15, 1.14, 1.13, 1.12, 1.11, 1.1, 1.09, 1.08, 1.07, 1.06, 1.05, 1.02, 0.95, 0.82, 0.7, 0.57]
];

// ---------------- tick values ----------------
const xTicks36 = [0, 5, 10, 15, 20, 25, 30];
const xTicks30 = [0, 5, 10, 15, 20, 25];
const xTicks40 = [0, 5, 10, 15, 20, 25, 30, 35];

// ---------------- styling helpers ----------------
const FONT = "'Liberation Sans', Arial, Helvetica, sans-serif";
const rampStops = [[0, [255, 25, 45]], [0.3, [255, 60, 140]], [0.55, [236, 75, 220]], [0.8, [150, 85, 240]], [1, [70, 90, 240]]];

function ramp(f, a) {
  for (let k = 1; k < rampStops.length; k++) {
    const [f0, c0] = rampStops[k - 1];
    const [f1, c1] = rampStops[k];
    if (f <= f1 + 1e-9) {
      const u = (f - f0) / (f1 - f0);
      const c = c0.map((v, n) => Math.round(v + (c1[n] - v) * u));
      return `rgba(${c[0]},${c[1]},${c[2]},${a})`;
    }
  }
  return `rgba(70,90,240,${a})`;
}

// curves of M/H at several fields
function fieldSeries(temps, curves, labels, endF) {
  return curves.map((vals, i) => ({
    label: labels[i],
    data: temps.map((t, j) => ({ x: t, y: vals[j] })),
    borderColor: ramp(endF * i / (curves.length - 1), 0.78),
    borderWidth: i === 0 ? 1.8 : 1
  }));
}

// M = (M/H) * H, with H in kOe (mT / 100), M in 10^3 cm^3 Oe / mol
function momentSeries(temps, curves, labels, fields, endF) {
  return curves.map((vals, i) => ({
    label: labels[i],
    data: temps.map((t, j) => ({ x: t, y: vals[j] * fields[i] / 100 })),
    borderColor: ramp(endF * i / (curves.length - 1), 0.78),
    borderWidth: i === 0 ? 1.8 : 1
  }));
}

const pairColors = ['rgba(255,100,155,0.85)', 'rgba(255,80,130,0.85)', 'rgba(255,60,100,0.85)', 'rgba(255,20,30,0.9)'];

function pairSeries(temps, zfc, fc, labels) {
  const out = [];
  labels.forEach((lab, i) => {
    const last = i === labels.length - 1;
    out.push({ label: lab + ' ZFC', data: temps.map((t, j) => ({ x: t, y: zfc[i][j] })), borderColor: pairColors[i], borderWidth: last ? 1.2 : 0.9, borderDash: last ? [4, 1.5] : [3, 2] });
    out.push({ label: lab + ' FC', data: temps.map((t, j) => ({ x: t, y: fc[i][j] })), borderColor: pairColors[i], borderWidth: last ? 1.5 : 1 });
  });
  return out;
}

const diffColors = ['rgba(200,60,235,0.9)', 'rgba(238,110,235,0.9)', 'rgba(255,60,170,0.9)', 'rgba(255,25,25,0.95)'];

function diffSeries(temps, curves, labels, colors) {
  return curves.map((vals, i) => ({
    label: labels[i],
    data: temps.map((t, j) => ({ x: t, y: vals[j] })),
    borderColor: colors[i],
    borderWidth: i === curves.length - 1 ? 1.3 : 1,
    cubicInterpolationMode: 'default',
    tension: 0
  }));
}

function fmtTick(v, dec) {
  const s = Math.abs(v).toFixed(dec);
  return (v < -1e-9 ? '\u2212' : '') + s;
}

// ---------------- one panel = one chart ----------------
function makePanel(p) {
  const [l, t, r, b] = p.box;
  const padL = p.titleX != null ? l - (p.titleX - 6) : 28;
  const padT = 6, padR = 3;
  const padB = p.showX ? (p.xTitle ? 22 : 13) : 0;
  const left = l - padL, top = t - padT;

  const holder = document.createElement('div');
  holder.className = 'panel';
  holder.style.left = left + 'px';
  holder.style.top = top + 'px';
  holder.style.width = (r - left + padR) + 'px';
  holder.style.height = (b - top + padB) + 'px';
  const canvas = document.createElement('canvas');
  holder.appendChild(canvas);
  document.body.appendChild(holder);

  const deco = {
    id: 'deco',
    beforeDatasetsDraw(chart) {
      if (!p.zeroLine) return;
      const a = chart.chartArea, ctx = chart.ctx;
      const y0 = Math.round(chart.scales.y.getPixelForValue(0)) + 0.5;
      ctx.save();
      ctx.strokeStyle = '#c4c4c4';
      ctx.lineWidth = 1;
      ctx.beginPath(); ctx.moveTo(a.left, y0); ctx.lineTo(a.right, y0); ctx.stroke();
      ctx.restore();
    },
    afterDatasetsDraw(chart) {
      const a = chart.chartArea, ctx = chart.ctx;
      ctx.save();
      ctx.strokeStyle = '#a8a8a8';
      ctx.lineWidth = 1;
      ctx.strokeRect(Math.round(a.left) + 0.5, Math.round(a.top) + 0.5, Math.round(a.width) - 1, Math.round(a.height) - 1);
      ctx.beginPath();
      p.xTicks.forEach(v => {
        const x = Math.round(chart.scales.x.getPixelForValue(v)) + 0.5;
        ctx.moveTo(x, a.bottom); ctx.lineTo(x, a.bottom - 3);
        ctx.moveTo(x, a.top); ctx.lineTo(x, a.top + 3);
      });
      p.yTicks.forEach(v => {
        const y = Math.round(chart.scales.y.getPixelForValue(v)) + 0.5;
        ctx.moveTo(a.left, y); ctx.lineTo(a.left + 3, y);
        ctx.moveTo(a.right, y); ctx.lineTo(a.right - 3, y);
      });
      ctx.stroke();
      ctx.restore();
    },
    afterDraw(chart) {
      const ctx = chart.ctx;
      ctx.save();
      ctx.textBaseline = 'middle';
      (p.texts || []).forEach(([str, x, y, align, italic]) => {
        ctx.font = (italic ? 'italic 9.5px ' : '10px ') + FONT;
        ctx.fillStyle = '#222';
        ctx.textAlign = align === 'r' ? 'right' : 'left';
        ctx.fillText(str, x - left, y - top);
      });
      if (p.legend) {
        const [lx, ly, lw, lh] = p.legend.rect;
        const x = lx - left, y = ly - top;
        const seg = p.legend.seg || 9;
        const dsets = chart.data.datasets;
        ctx.fillStyle = '#1a1a1a';
        ctx.fillRect(x + 2, y + 2, lw, lh);
        ctx.fillStyle = '#fff';
        ctx.fillRect(x, y, lw, lh);
        ctx.strokeStyle = '#555';
        ctx.lineWidth = 0.7;
        ctx.strokeRect(x + 0.5, y + 0.5, lw - 1, lh - 1);
        const rowH = (lh - 2) / dsets.length;
        const fs = p.legend.fs || Math.min(6.5, rowH * 1.15);
        ctx.font = fs + 'px ' + FONT;
        ctx.textAlign = 'left';
        dsets.forEach((ds, i) => {
          const cy = y + 1 + rowH * (i + 0.5);
          ctx.strokeStyle = ds.borderColor;
          ctx.lineWidth = Math.min(ds.borderWidth, rowH * 0.6) + 0.3;
          ctx.setLineDash(ds.borderDash || []);
          ctx.beginPath(); ctx.moveTo(x + 2, cy); ctx.lineTo(x + 2 + seg, cy); ctx.stroke();
          ctx.setLineDash([]);
          ctx.fillStyle = '#111';
          ctx.fillText(ds.label, x + 4 + seg, cy + 0.3);
        });
      }
      ctx.restore();
    }
  };

  new Chart(canvas, {
    type: 'line',
    data: { datasets: p.datasets },
    options: {
      responsive: true,
      maintainAspectRatio: false,
      animation: false,
      events: [],
      layout: { padding: { top: padT, right: padR, left: 0, bottom: 0 } },
      plugins: { legend: { display: false }, tooltip: { enabled: false } },
      elements: {
        point: { radius: 0 },
        line: { cubicInterpolationMode: 'monotone', borderJoinStyle: 'round', fill: false }
      },
      scales: {
        x: {
          type: 'linear',
          min: p.xRange[0], max: p.xRange[1],
          display: !!p.showX,
          afterBuildTicks: s => { s.ticks = p.xTicks.map(v => ({ value: v })); },
          afterFit: s => { s.height = padB; s.paddingLeft = 0; s.paddingRight = 0; },
          ticks: { autoSkip: false, maxRotation: 0, padding: 1, color: '#1a1a1a', font: { family: FONT, size: 10 } },
          grid: { display: false, drawTicks: false },
          border: { display: false },
          title: { display: !!p.xTitle, text: 'Temperature (K)', padding: 0, color: '#1a1a1a', font: { family: FONT, size: 9.5 } }
        },
        y: {
          type: 'linear',
          min: p.yRange[0], max: p.yRange[1],
          afterBuildTicks: s => { s.ticks = p.yTicks.map(v => ({ value: v })); },
          afterFit: s => { s.width = padL; s.paddingTop = 0; s.paddingBottom = 0; },
          ticks: { autoSkip: false, padding: 2, color: '#1a1a1a', font: { family: FONT, size: 10 }, callback: v => fmtTick(v, p.yDec || 0) },
          grid: { display: false, drawTicks: false },
          border: { display: false },
          title: { display: !!p.yTitle, text: p.yTitle || '', padding: 0, color: '#1a1a1a', font: { family: FONT, size: 9.5 } }
        }
      }
    },
    plugins: [deco]
  });
}

const TITLE_MH = 'M / H (cm\u00b3 mol\u207b\u00b9)';
const TITLE_M = 'M (10\u00b3 cm\u00b3 Oe mol\u207b\u00b9)';
const TITLE_DM = '\u0394M / H (cm\u00b3 mol\u207b\u00b9)';

const panels = [
  // ---- row 1 ----
  { box: [33, 1, 193, 151], titleX: 11, yTitle: TITLE_MH, xRange: [0, 36], xTicks: xTicks36, yRange: [0, 2.68], yTicks: [0.5, 1, 1.5, 2, 2.5], yDec: 1,
    datasets: fieldSeries(tempA, chiA, labelA, 1), legend: { rect: [161, 1, 31, 97] },
    texts: [['(a)', 28, 6], ['H || c', 190, 136, 'r', true], ['x=0.00', 190, 145, 'r', true]] },
  { box: [33, 151, 193, 236], titleX: 11, yTitle: TITLE_M, showX: true, xTitle: true, xRange: [0, 36], xTicks: xTicks36, yRange: [-1, 43.5], yTicks: [0, 10, 20, 30, 40],
    datasets: momentSeries(tempA, chiA, labelA, fieldA, 1),
    texts: [['(b)', 73, 157], ['H || c', 190, 157, 'r', true], ['x=0.00', 190, 166, 'r', true]] },
  { box: [215, 1, 375, 151], xRange: [0, 36], xTicks: xTicks36, yRange: [0, 4.46], yTicks: [1, 2, 3, 4],
    datasets: fieldSeries(tempC, chiC, labelC, 1), legend: { rect: [340, 2, 33, 103] },
    texts: [['(c)', 217, 7], ['H || a', 373, 136, 'r', true], ['x=0.00', 373, 145, 'r', true]] },
  { box: [215, 151, 375, 236], showX: true, xRange: [0, 36], xTicks: xTicks36, yRange: [-1.4, 41.7], yTicks: [0, 10, 20, 30, 40],
    datasets: momentSeries(tempC, chiC, labelC, fieldC, 1),
    texts: [['(d)', 217, 175], ['H || a', 373, 157, 'r', true], ['x=0.00', 373, 166, 'r', true]] },
  { box: [418, 1, 585, 150], titleX: 401, yTitle: TITLE_MH, xRange: [0, 39.5], xTicks: xTicks40, yRange: [-0.03, 4.17], yTicks: [0, 1, 2, 3, 4],
    datasets: pairSeries(tempE, zfcE, fcE, pairLabelE), legend: { rect: [538, 2, 46, 55], seg: 10 },
    texts: [['(e)', 422, 15], ['H || c', 580, 62, 'r', true], ['x=0.00', 580, 81, 'r', true]] },
  { box: [418, 150, 585, 236], titleX: 388, yTitle: TITLE_DM, showX: true, xTitle: true, xRange: [0, 39.5], xTicks: xTicks40, yRange: [-0.044, 0.0075], yTicks: [0, -0.01, -0.02, -0.03, -0.04], yDec: 2, zeroLine: true,
    datasets: diffSeries(tempF, diffF, diffLabelF, diffColors), legend: { rect: [551, 201, 33, 34] },
    texts: [['(f)', 421, 155], ['H || c', 580, 183, 'r', true], ['x=0.00', 580, 194, 'r', true]] },
  { box: [614, 1, 779, 148], xRange: [0, 39.5], xTicks: xTicks40, yRange: [0, 5.2], yTicks: [0, 1, 2, 3, 4, 5],
    datasets: pairSeries(tempG, zfcG, fcG, pairLabelG), legend: { rect: [734, 2, 45, 55], seg: 10 },
    texts: [['(g)', 617, 15], ['H || a', 775, 65, 'r', true], ['x=0.00', 775, 76, 'r', true]] },
  { box: [614, 148, 779, 234], showX: true, xRange: [0, 39.5], xTicks: xTicks40, yRange: [-0.11, 0.065], yTicks: [0.05, 0, -0.05, -0.1], yDec: 2, zeroLine: true,
    datasets: diffSeries(tempH, diffH, diffLabelH, diffColors), legend: { rect: [742, 197, 37, 36] },
    texts: [['(h)', 617, 173], ['H || a', 775, 155, 'r', true], ['x=0.00', 775, 165, 'r', true]] },
  // ---- row 2 ----
  { box: [207, 248, 375, 399], titleX: 192, yTitle: TITLE_MH, xRange: [0, 30], xTicks: xTicks30, yRange: [-0.15, 19], yTicks: [5, 10, 15],
    datasets: fieldSeries(tempI, chiI, labelI, 0.88), legend: { rect: [340, 250, 31, 93] },
    texts: [['(i)', 210, 255], ['H || a', 371, 350, 'r', true], ['x=0.09', 371, 359, 'r', true]] },
  { box: [207, 399, 375, 484], titleX: 192, yTitle: TITLE_M, showX: true, xRange: [0, 30], xTicks: xTicks30, yRange: [-1.3, 41.7], yTicks: [0, 10, 20, 30, 40],
    datasets: momentSeries(tempI, chiI, labelI, fieldI, 0.88),
    texts: [['(j)', 210, 407], ['H || a', 371, 406, 'r', true], ['x=0.09', 371, 414, 'r', true]] },
  { box: [615, 247, 779, 396], titleX: 594, yTitle: TITLE_MH, xRange: [0, 39.5], xTicks: xTicks40, yRange: [-0.2, 29.6], yTicks: [0, 5, 10, 15, 20, 25],
    datasets: pairSeries(tempK, zfcK, fcK, pairLabelK), legend: { rect: [732, 252, 47, 52], seg: 10 },
    texts: [['(k)', 616, 255], ['H || a', 776, 311, 'r', true], ['x=0.09', 776, 321, 'r', true]] },
  { box: [615, 396, 779, 483], titleX: 594, yTitle: TITLE_DM, showX: true, xRange: [0, 39.5], xTicks: xTicks40, yRange: [-0.534, 0.083], yTicks: [0, -0.1, -0.2, -0.3, -0.4], yDec: 1, zeroLine: true,
    datasets: diffSeries(tempL, diffL, diffLabelL, diffColors), legend: { rect: [741, 410, 38, 25] },
    texts: [['(l)', 617, 434], ['H || a', 776, 450, 'r', true], ['x=0.09', 776, 460, 'r', true]] },
  // ---- row 3 ----
  { box: [23, 495, 193, 645], titleX: 8, yTitle: TITLE_MH, xRange: [0, 30], xTicks: xTicks30, yRange: [0.13, 6.69], yTicks: [1, 2, 3, 4, 5, 6],
    datasets: fieldSeries(tempM, chiM, labelM, 1), legend: { rect: [159, 498, 31, 92] },
    texts: [['(m)', 26, 523], ['H || c', 190, 598, 'r', true], ['x=0.12', 190, 607, 'r', true]] },
  { box: [23, 645, 193, 730], titleX: 8, yTitle: TITLE_M, showX: true, xTitle: true, xRange: [0, 30], xTicks: xTicks30, yRange: [-0.4, 43.5], yTicks: [0, 10, 20, 30, 40],
    datasets: momentSeries(tempM, chiM, labelM, fieldM, 1),
    texts: [['(n)', 27, 665], ['H || c', 190, 652, 'r', true], ['x=0.12', 190, 663, 'r', true]] },
  { box: [215, 495, 375, 645], xRange: [0, 30], xTicks: xTicks30, yRange: [-0.1, 18.9], yTicks: [0, 5, 10, 15],
    datasets: fieldSeries(tempO, chiO, labelO, 1), legend: { rect: [340, 498, 32, 94] },
    texts: [['(o)', 212, 504], ['H || a', 370, 598, 'r', true], ['x=0.12', 370, 607, 'r', true]] },
  { box: [215, 645, 375, 730], showX: true, xRange: [0, 30], xTicks: xTicks30, yRange: [-0.3, 43], yTicks: [0, 10, 20, 30, 40],
    datasets: momentSeries(tempO, chiO, labelO, fieldO, 1),
    texts: [['(p)', 215, 672], ['H || a', 370, 652, 'r', true], ['x=0.12', 370, 663, 'r', true]] },
  { box: [418, 495, 585, 643], titleX: 400, yTitle: TITLE_MH, xRange: [0, 39.5], xTicks: xTicks40, yRange: [0, 9.3], yTicks: [0, 2, 4, 6, 8],
    datasets: pairSeries(tempQ, zfcQ, fcQ, pairLabelQ), legend: { rect: [537, 498, 46, 44], seg: 10, fs: 5.4 },
    texts: [['(q)', 420, 505], ['H || c', 580, 548, 'r', true], ['x=0.12', 580, 560, 'r', true]] },
  { box: [418, 643, 585, 729], titleX: 388, yTitle: TITLE_DM, showX: true, xTitle: true, xRange: [0, 39.5], xTicks: xTicks40, yRange: [-0.8, 0.07], yTicks: [0, -0.2, -0.4, -0.6, -0.8], yDec: 1, zeroLine: true,
    datasets: diffSeries(tempR, diffR, diffLabelR, ['rgba(255,80,150,0.9)', 'rgba(255,70,120,0.9)', 'rgba(255,60,90,0.9)', 'rgba(255,25,35,0.95)']), legend: { rect: [552, 652, 31, 26] },
    texts: [['(r)', 420, 663], ['H || c', 580, 682, 'r', true], ['x=0.12', 580, 692, 'r', true]] },
  { box: [615, 495, 779, 645], xRange: [0, 39.5], xTicks: xTicks40, yRange: [0, 29.1], yTicks: [0, 5, 10, 15, 20, 25],
    datasets: pairSeries(tempS, zfcS, fcS, pairLabelS), legend: { rect: [733, 498, 46, 54], seg: 10 },
    texts: [['(s)', 618, 504], ['H || a', 777, 561, 'r', true], ['x=0.12', 777, 570, 'r', true]] },
  { box: [615, 645, 779, 729], showX: true, xRange: [0, 39.5], xTicks: xTicks40, yRange: [-0.8, 0.08], yTicks: [0, -0.2, -0.4, -0.6, -0.8], yDec: 1, zeroLine: true,
    datasets: diffSeries(tempT, diffT, diffLabelT, ['rgba(255,90,170,0.9)', 'rgba(255,25,25,0.95)', 'rgba(40,100,40,0.95)']), legend: { rect: [617, 677, 48, 23], seg: 11, fs: 5.6 },
    texts: [['(t)', 617, 665], ['H || a', 777, 660, 'r', true], ['x=0.12', 777, 668, 'r', true]] },
  // ---- row 4 ----
  { box: [207, 743, 375, 891], titleX: 194, yTitle: TITLE_MH, xRange: [0, 30], xTicks: xTicks30, yRange: [0, 19.9], yTicks: [5, 10, 15],
    datasets: fieldSeries(tempU, chiU, labelU, 0.88), legend: { rect: [340, 745, 32, 93] },
    texts: [['(u)', 210, 746], ['H || a', 370, 854, 'r', true], ['x=0.16', 370, 863, 'r', true]] },
  { box: [207, 891, 375, 977], titleX: 194, yTitle: TITLE_M, showX: true, xTitle: true, xRange: [0, 30], xTicks: xTicks30, yRange: [-0.5, 36.3], yTicks: [0, 5, 10, 15, 20, 25, 30, 35],
    datasets: momentSeries(tempU, chiU, labelU, fieldU, 0.88),
    texts: [['(v)', 210, 899], ['H || a', 370, 899, 'r', true], ['x=0.16', 370, 908, 'r', true]] },
  { box: [614, 743, 779, 890], titleX: 591, yTitle: TITLE_MH, xRange: [0, 39.5], xTicks: xTicks40, yRange: [0, 32.9], yTicks: [0, 5, 10, 15, 20, 25, 30],
    datasets: pairSeries(tempW, zfcW, fcW, pairLabelW), legend: { rect: [733, 745, 46, 53], seg: 10 },
    texts: [['(w)', 617, 753], ['H || a', 774, 801, 'r', true], ['x=0.16', 774, 809, 'r', true]] },
  { box: [614, 890, 779, 977], titleX: 591, yTitle: TITLE_DM, showX: true, xTitle: true, xRange: [0, 39.5], xTicks: xTicks40, yRange: [-0.53, 0.084], yTicks: [0, -0.1, -0.2, -0.3, -0.4], yDec: 1, zeroLine: true,
    datasets: diffSeries(tempXd, diffX, diffLabelX, diffColors), legend: { rect: [742, 930, 37, 28] },
    texts: [['(x)', 618, 895], ['H || a', 775, 957, 'r', true], ['x=0.16', 775, 964, 'r', true]] }
];

panels.forEach(makePanel);
</script>
</body>
</html>
